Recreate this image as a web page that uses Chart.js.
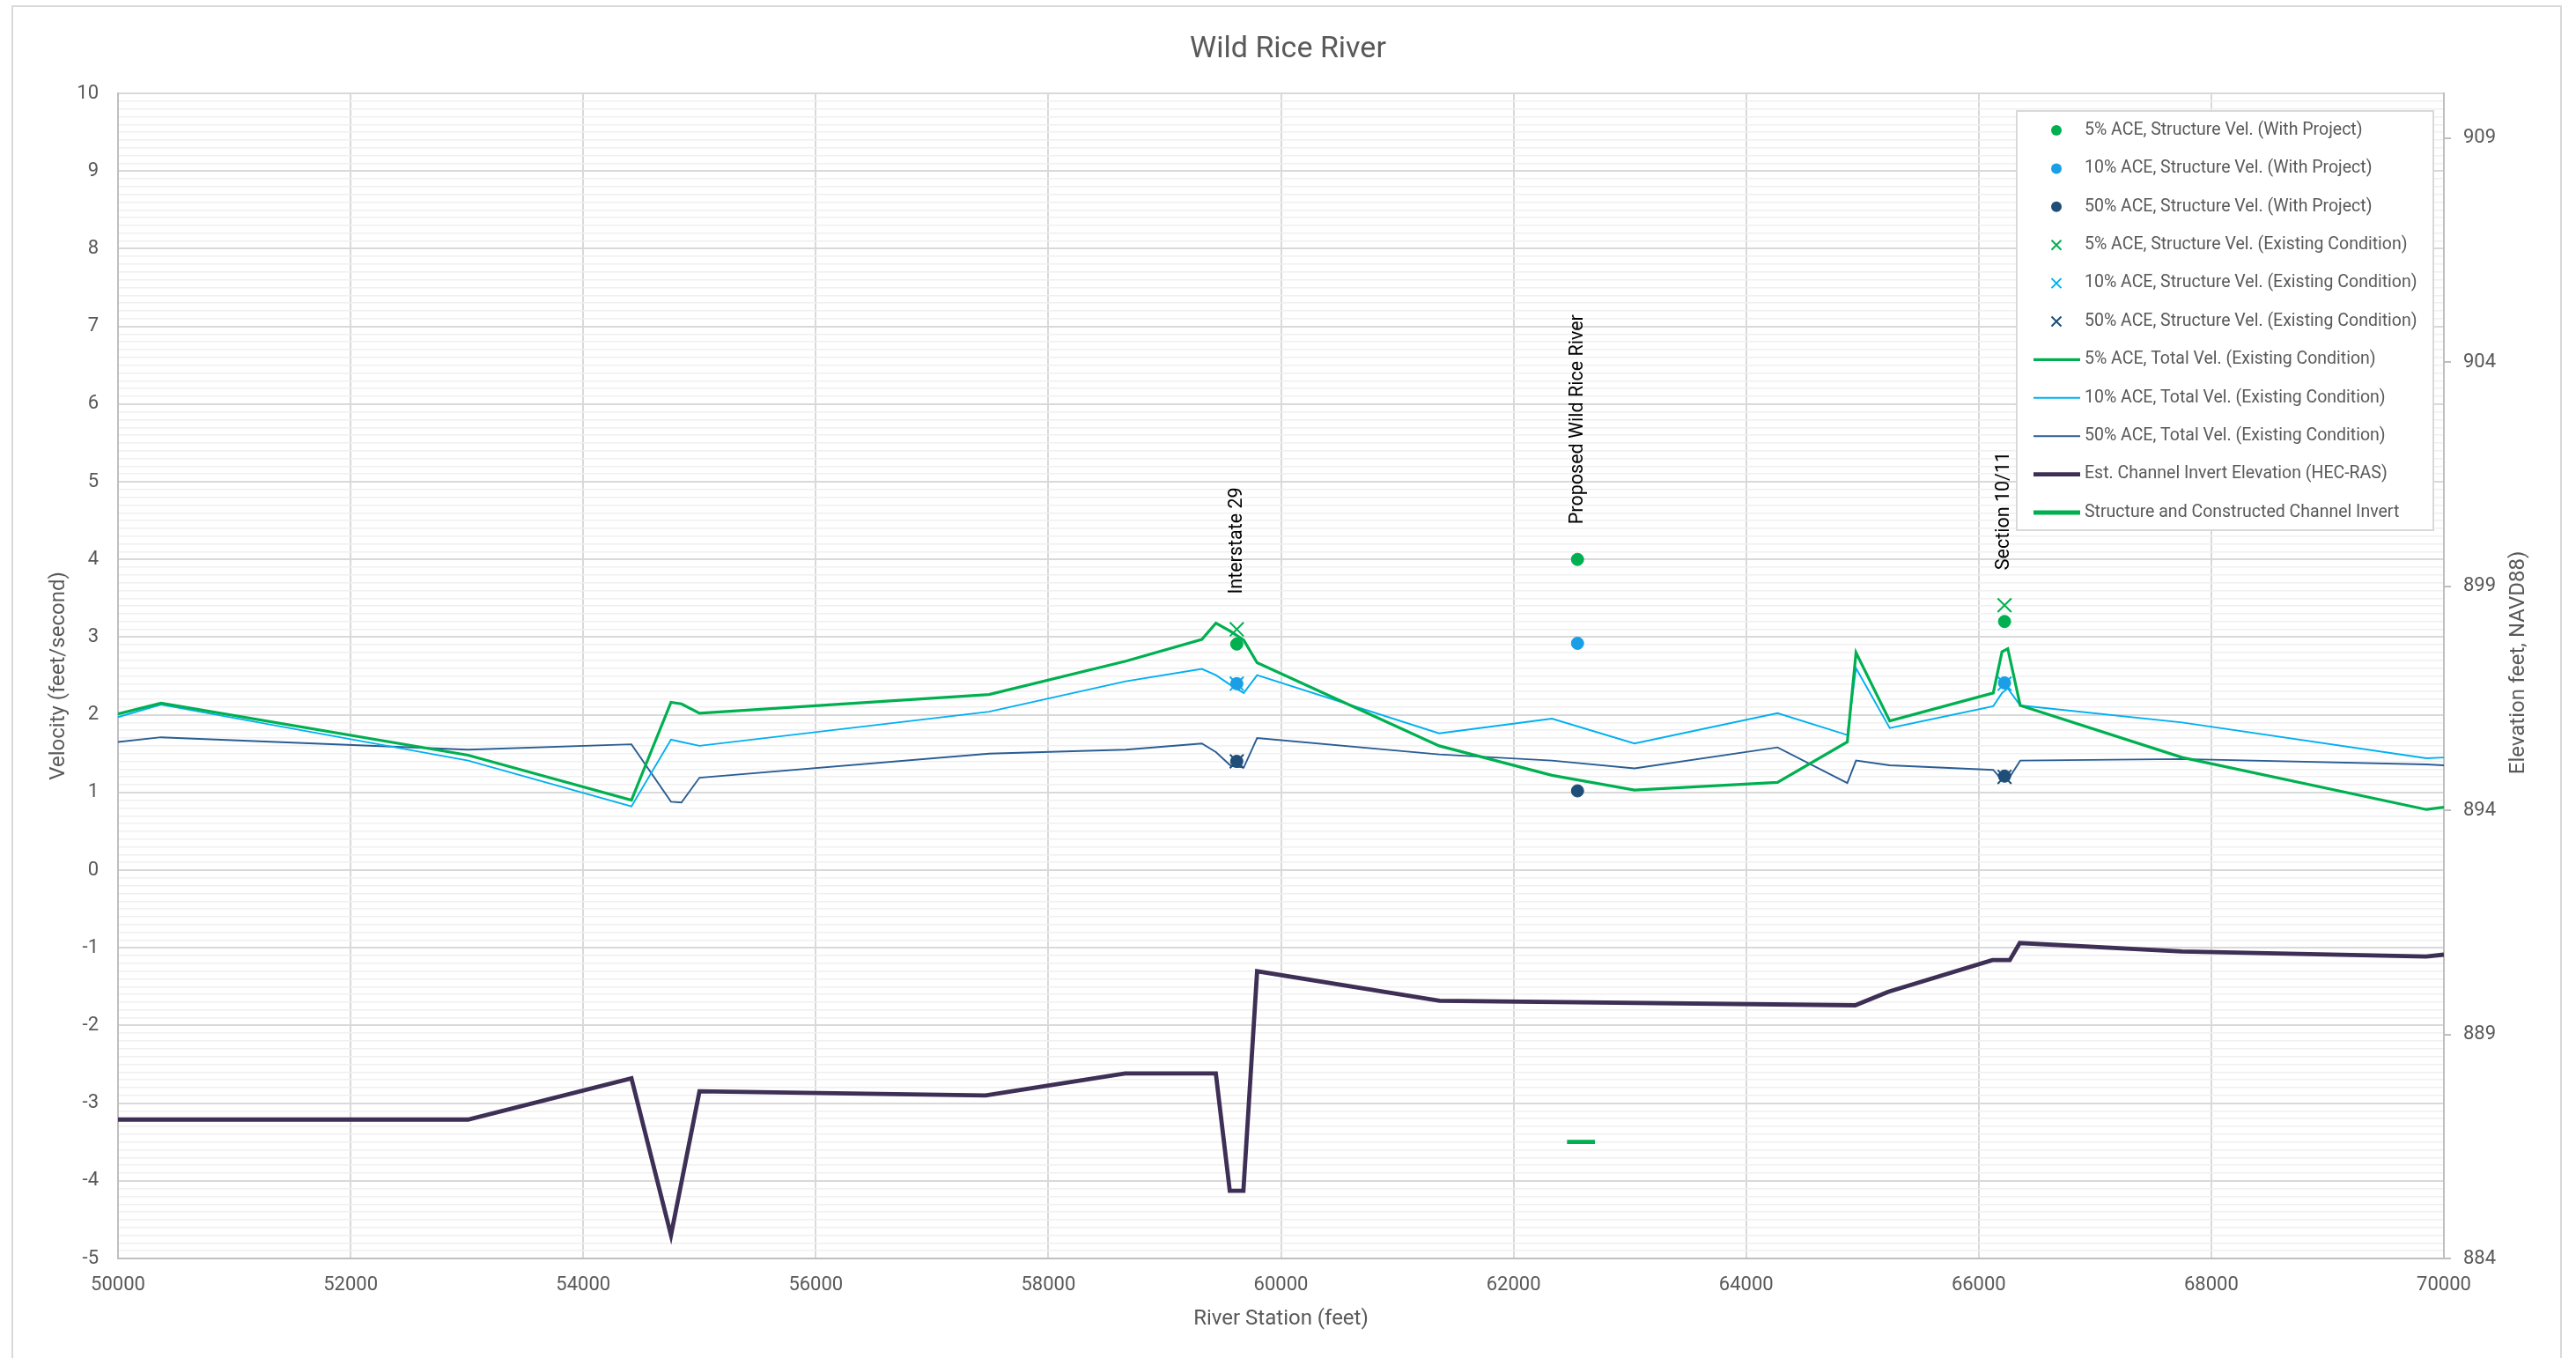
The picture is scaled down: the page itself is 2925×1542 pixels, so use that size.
<!DOCTYPE html>
<html>
<head>
<meta charset="utf-8">
<title>Wild Rice River</title>
<script src="https://cdn.jsdelivr.net/npm/chart.js@4/dist/chart.umd.min.js"></script>
<style>
  html, body { margin: 0; padding: 0; background: #fff; }
  #wrap { width: 2925px; height: 1542px; }
</style>
</head>
<body>
<div id="wrap"><canvas id="velocity-chart" width="2925" height="1542"></canvas></div>
<script>
// River stations (feet) of the HEC-RAS velocity profiles
const stations = [50000, 50370, 53010, 54415, 54755, 54845, 55000, 57490, 58665, 59320,
                  59441, 59570, 59680, 59795, 61360, 62330, 63040, 64270, 64870, 64945,
                  65235, 66125, 66200, 66250, 66357, 67750, 69850, 70000];
// Total velocity, existing condition (ft/s)
const vel5 = [2.01, 2.15, 1.48, 0.90, 2.16, 2.14, 2.02, 2.26, 2.69, 2.97,
              3.18, 3.07, 2.96, 2.67, 1.60, 1.22, 1.03, 1.13, 1.65, 2.80,
              1.92, 2.28, 2.81, 2.85, 2.12, 1.45, 0.78, 0.81];
const vel10 = [1.97, 2.13, 1.41, 0.82, 1.68, 1.65, 1.60, 2.04, 2.43, 2.59,
               2.51, 2.38, 2.28, 2.51, 1.76, 1.95, 1.63, 2.02, 1.74, 2.60,
               1.83, 2.11, 2.28, 2.34, 2.12, 1.90, 1.44, 1.45];
const vel50 = [1.65, 1.71, 1.55, 1.62, 0.88, 0.87, 1.19, 1.50, 1.55, 1.63,
               1.52, 1.34, 1.32, 1.70, 1.49, 1.41, 1.31, 1.58, 1.12, 1.41,
               1.35, 1.29, 1.16, 1.16, 1.41, 1.43, 1.36, 1.35];

// Estimated channel invert (HEC-RAS), elevation ft NAVD88
const invertStations = [50000, 53010, 54415, 54755, 55000, 57460, 58660, 59440, 59560, 59677,
                        59795, 61364, 64938, 65221, 66118, 66267, 66353, 67746, 69847, 70000];
const invertElev = [887.10, 887.10, 888.02, 884.52, 887.73, 887.64, 888.13, 888.13, 885.51, 885.51,
                    890.41, 889.75, 889.65, 889.95, 890.66, 890.66, 891.04, 890.85, 890.74, 890.78];

// Structure and constructed channel invert
const constructedStations = [62460, 62700];
const constructedElev = [886.6, 886.6];

// Structures
const structureNames = ['Interstate 29', 'Proposed Wild Rice River', 'Section 10/11'];
const structureStations = [59620, 62550, 66222];
const withProject5 = [2.91, 4.00, 3.20];
const withProject10 = [2.40, 2.92, 2.41];
const withProject50 = [1.40, 1.02, 1.21];
const existing5 = [3.10, null, 3.41];
const existing10 = [2.40, null, 2.40];
const existing50 = [1.40, null, 1.20];

// Axis ticks
const stationTicks = [50000, 52000, 54000, 56000, 58000, 60000, 62000, 64000, 66000, 68000, 70000];
const velocityTicks = [-5, -4, -3, -2, -1, 0, 1, 2, 3, 4, 5, 6, 7, 8, 9, 10];
const elevationTicks = [884, 889, 894, 899, 904, 909];

const FONT = 'Roboto';
const TEXT = '#595959';
const GREEN = '#00b050';
const LIGHTBLUE = '#00b0f0';
const DARKBLUE = '#1f4e79';

function pts(xs, ys) {
    return xs.map((x, i) => ({ x: x, y: ys[i] }));
}

function markerSet(label, ys, style, color, axis) {
    return {
        label: label,
        data: pts(structureStations, ys),
        showLine: false,
        pointStyle: style,
        pointRadius: style === 'circle' ? 7 : 11,
        pointHoverRadius: style === 'circle' ? 7 : 11,
        pointBackgroundColor: color,
        pointBorderColor: color,
        pointBorderWidth: style === 'circle' ? 1 : 2,
        borderColor: color,
        backgroundColor: color,
        yAxisID: axis
    };
}

function lineSet(label, xs, ys, color, width, axis) {
    return {
        label: label,
        data: pts(xs, ys),
        showLine: true,
        borderColor: color,
        backgroundColor: color,
        borderWidth: width,
        pointRadius: 0,
        pointHoverRadius: 0,
        tension: 0,
        borderJoinStyle: 'miter',
        yAxisID: axis
    };
}

// outer frame of the chart
const framePlugin = {
    id: 'frame',
    beforeDraw(chart) {
        const ctx = chart.ctx;
        ctx.save();
        ctx.strokeStyle = '#d9d9d9';
        ctx.lineWidth = 2;
        ctx.strokeRect(14, 7, 2894, 1600);
        ctx.restore();
    }
};

// rotated names above each structure
const structureLabels = {
    id: 'structureLabels',
    afterDatasetsDraw(chart) {
        const ctx = chart.ctx;
        const xs = chart.scales.x;
        const ys = chart.scales.y;
        ctx.save();
        ctx.fillStyle = '#000';
        ctx.font = '21.5px ' + FONT;
        ctx.textAlign = 'left';
        ctx.textBaseline = 'middle';
        structureNames.forEach((name, i) => {
            const top = Math.max(withProject5[i], withProject10[i], withProject50[i],
                existing5[i] ?? -99, existing10[i] ?? -99, existing50[i] ?? -99);
            ctx.save();
            ctx.translate(xs.getPixelForValue(structureStations[i]), ys.getPixelForValue(top) - 40);
            ctx.rotate(-Math.PI / 2);
            ctx.fillText(name, 0, 0);
            ctx.restore();
        });
        ctx.restore();
    }
};

// right axis title reads bottom to top, as in Excel
const rightTitle = {
    id: 'rightTitle',
    afterDraw(chart) {
        const ctx = chart.ctx;
        const area = chart.chartArea;
        ctx.save();
        ctx.fillStyle = TEXT;
        ctx.font = '24px ' + FONT;
        ctx.textAlign = 'center';
        ctx.textBaseline = 'middle';
        ctx.translate(2860, (area.top + area.bottom) / 2 - 15);
        ctx.rotate(-Math.PI / 2);
        ctx.fillText('Elevation feet, NAVD88)', 0, 0);
        ctx.restore();
    }
};

function drawSample(ctx, ds, x, y) {
    ctx.save();
    if (ds.showLine) {
        ctx.strokeStyle = ds.borderColor;
        ctx.lineWidth = ds.borderWidth;
        ctx.beginPath();
        ctx.moveTo(x - 26, y);
        ctx.lineTo(x + 27, y);
        ctx.stroke();
    } else if (ds.pointStyle === 'circle') {
        ctx.fillStyle = ds.pointBackgroundColor;
        ctx.beginPath();
        ctx.arc(x, y, 6, 0, Math.PI * 2);
        ctx.fill();
    } else {
        const r = 5.5;
        ctx.strokeStyle = ds.pointBorderColor;
        ctx.lineWidth = 2;
        ctx.beginPath();
        ctx.moveTo(x - r, y - r); ctx.lineTo(x + r, y + r);
        ctx.moveTo(x + r, y - r); ctx.lineTo(x - r, y + r);
        ctx.stroke();
    }
    ctx.restore();
}

// legend box inside the plot area, top right
const boxLegend = {
    id: 'boxLegend',
    afterDraw(chart) {
        const ctx = chart.ctx;
        const left = 2290, top = 126, right = 2763, bottom = 602;
        ctx.save();
        ctx.fillStyle = '#fff';
        ctx.fillRect(left, top, right - left, bottom - top);
        ctx.strokeStyle = '#d9d9d9';
        ctx.lineWidth = 2;
        ctx.strokeRect(left, top, right - left, bottom - top);
        ctx.font = '19.5px ' + FONT;
        ctx.textBaseline = 'middle';
        ctx.textAlign = 'left';
        chart.data.datasets.forEach((ds, i) => {
            const y = 148 + i * 43.4;
            drawSample(ctx, ds, 2335, y);
            ctx.fillStyle = TEXT;
            ctx.fillText(ds.label, 2367, y);
        });
        ctx.restore();
    }
};

const tickFont = { family: FONT, size: 22 };

new Chart(document.getElementById('velocity-chart'), {
    type: 'scatter',
    data: {
        datasets: [
            markerSet('5% ACE, Structure Vel. (With Project)', withProject5, 'circle', GREEN, 'y'),
            markerSet('10% ACE, Structure Vel. (With Project)', withProject10, 'circle', '#1a9fe6', 'y'),
            markerSet('50% ACE, Structure Vel. (With Project)', withProject50, 'circle', DARKBLUE, 'y'),
            markerSet('5% ACE, Structure Vel. (Existing Condition)', existing5, 'crossRot', GREEN, 'y'),
            markerSet('10% ACE, Structure Vel. (Existing Condition)', existing10, 'crossRot', LIGHTBLUE, 'y'),
            markerSet('50% ACE, Structure Vel. (Existing Condition)', existing50, 'crossRot', DARKBLUE, 'y'),
            lineSet('5% ACE, Total Vel. (Existing Condition)', stations, vel5, GREEN, 3.2, 'y'),
            lineSet('10% ACE, Total Vel. (Existing Condition)', stations, vel10, LIGHTBLUE, 1.9, 'y'),
            lineSet('50% ACE, Total Vel. (Existing Condition)', stations, vel50, '#2a5d93', 1.9, 'y'),
            lineSet('Est. Channel Invert Elevation (HEC-RAS)', invertStations, invertElev, '#3d2f55', 4.8, 'y2'),
            lineSet('Structure and Constructed Channel Invert', constructedStations, constructedElev, GREEN, 4.8, 'y2')
        ]
    },
    options: {
        responsive: false,
        animation: false,
        events: [],
        layout: { padding: 0 },
        plugins: {
            legend: { display: false },
            tooltip: { enabled: false },
            title: {
                display: true,
                text: 'Wild Rice River',
                color: TEXT,
                font: { family: FONT, size: 34, weight: 'normal' },
                padding: { top: 36, bottom: 29.2 }
            }
        },
        scales: {
            x: {
                type: 'linear',
                position: 'bottom',
                min: 50000,
                max: 70000,
                afterBuildTicks: s => { s.ticks = stationTicks.map(v => ({ value: v })); },
                afterFit: s => { s.height = 113; },
                ticks: { color: TEXT, font: tickFont, padding: 17, autoSkip: false, maxRotation: 0,
                         callback: v => String(v) },
                grid: { color: '#d9d9d9', lineWidth: 2, drawTicks: false },
                border: { color: '#bfbfbf', width: 2 },
                title: { display: true, text: 'River Station (feet)', color: TEXT,
                         font: { family: FONT, size: 24 }, padding: { top: 0, bottom: 29.6 } }
            },
            y: {
                type: 'linear',
                position: 'left',
                min: -5,
                max: 10,
                afterBuildTicks: s => {
                    const lo = velocityTicks[0] * 10, hi = velocityTicks[velocityTicks.length - 1] * 10;
                    const t = [];
                    for (let i = lo; i <= hi; i++) t.push({ value: i / 10 });
                    s.ticks = t;
                },
                afterFit: s => { s.width = 134; },
                ticks: {
                    color: TEXT, font: tickFont, padding: 22, autoSkip: false,
                    callback: v => velocityTicks.includes(v) ? String(v) : ''
                },
                grid: {
                    drawTicks: false,
                    color: c => Number.isInteger(c.tick.value) ? '#d9d9d9' : '#f0f0f0',
                    lineWidth: c => Number.isInteger(c.tick.value) ? 2 : 1.5
                },
                border: { color: '#bfbfbf', width: 2 },
                title: { display: true, text: 'Velocity (feet/second)', color: TEXT,
                         font: { family: FONT, size: 24 }, padding: { top: 52.6, bottom: 0 } }
            },
            y2: {
                type: 'linear',
                position: 'right',
                min: 884,
                max: 910,
                afterBuildTicks: s => { s.ticks = elevationTicks.map(v => ({ value: v })); },
                afterFit: s => { s.width = 150; },
                ticks: { color: TEXT, font: tickFont, padding: 14, autoSkip: false,
                         callback: v => String(v) },
                grid: { drawOnChartArea: false, drawTicks: true, tickLength: 8, color: '#bfbfbf', lineWidth: 2 },
                border: { color: '#bfbfbf', width: 2 }
            }
        }
    },
    plugins: [framePlugin, structureLabels, rightTitle, boxLegend]
});
</script>
</body>
</html>
